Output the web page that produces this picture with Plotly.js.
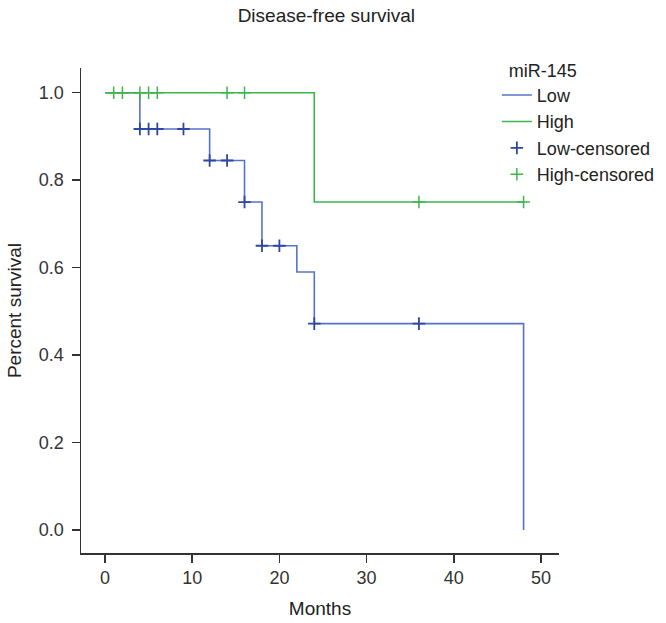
<!DOCTYPE html>
<html>
<head>
<meta charset="utf-8">
<script src="https://cdn.plot.ly/plotly-3.0.1.min.js"></script>
<style>html,body{margin:0;padding:0;background:#fff;}#chart{width:666px;height:623px;}</style>
</head>
<body>
<div id="chart"></div>
<script>
// Kaplan-Meier step curves
const lowTimes = [0, 4, 12, 16, 18, 22, 24, 48];
const lowSurv  = [1.0, 0.917, 0.845, 0.75, 0.65, 0.59, 0.472, 0.0];
const highTimes = [0, 24, 48];
const highSurv  = [1.0, 0.75, 0.75];
// Censored observations
const lowCensTimes = [4, 5, 6, 9, 12, 14, 16, 18, 20, 24, 36];
const lowCensSurv  = [0.917, 0.917, 0.917, 0.917, 0.845, 0.845, 0.75, 0.65, 0.65, 0.472, 0.472];
const highCensTimes = [1, 2, 4, 5, 6, 14, 16, 36, 48];
const highCensSurv  = [1, 1, 1, 1, 1, 1, 1, 0.75, 0.75];
const xTicks = [0, 10, 20, 30, 40, 50];
const yTicks = [0, 0.2, 0.4, 0.6, 0.8, 1.0];

const blue = '#5673c8';
const blueDark = '#2d47a3';
const green = '#3db54a';

const traces = [
  {x: lowTimes, y: lowSurv, name: 'Low', mode: 'lines', line: {shape: 'hv', color: blue, width: 1.6}},
  {x: highTimes, y: highSurv, name: 'High', mode: 'lines', line: {shape: 'hv', color: green, width: 1.6}},
  {x: lowCensTimes, y: lowCensSurv, name: 'Low-censored', mode: 'markers',
   marker: {symbol: 'cross-thin', size: 9, color: blueDark, line: {color: blueDark, width: 1.8}}},
  {x: highCensTimes, y: highCensSurv, name: 'High-censored', mode: 'markers',
   marker: {symbol: 'cross-thin', size: 9, color: green, line: {color: green, width: 1.5}}}
];

const fontFam = '"Liberation Sans", Arial, Helvetica, sans-serif';
const layout = {
  width: 666, height: 623,
  margin: {l: 81, r: 107, t: 68, b: 70, autoexpand: false},
  paper_bgcolor: '#fff', plot_bgcolor: '#fff',
  font: {family: fontFam, size: 18, color: '#222'},
  title: {text: 'Disease-free survival', x: 0.49, xanchor: 'center', y: 0.975, yanchor: 'middle', yref: 'container',
          font: {family: fontFam, size: 19, color: '#222'}},
  xaxis: {range: [-2.75, 52.06], tickvals: xTicks, ticktext: xTicks.map(String), automargin: false,
          showgrid: false, zeroline: false, showline: true, linecolor: '#333', linewidth: 1.5,
          ticks: 'outside', ticklen: 8, tickwidth: 1.5, tickcolor: '#333',
          tickfont: {size: 18, color: '#333'},
          title: {text: 'Months', font: {size: 19, color: '#222'}, standoff: 14}},
  yaxis: {range: [-0.0526, 1.0565], tickvals: yTicks, ticktext: yTicks.map(v => v.toFixed(1)), automargin: false,
          showgrid: false, zeroline: false, showline: true, linecolor: '#333', linewidth: 1.5,
          ticks: 'outside', ticklen: 8, tickwidth: 1.5, tickcolor: '#333',
          tickfont: {size: 18, color: '#333'}, ticklabelstandoff: 4,
          title: {text: 'Percent survival', font: {size: 19, color: '#222'}, standoff: 12}},
  showlegend: true,
  legend: {x: 0.87, xanchor: 'left', y: 1.03, yanchor: 'top', bgcolor: 'rgba(0,0,0,0)',
           font: {size: 18, color: '#222'}, tracegroupgap: 0, itemwidth: 30,
           title: {text: '\u00a0\u00a0miR-145', font: {size: 18, color: '#222'}}}
};
Plotly.newPlot('chart', traces, layout, {displayModeBar: false, staticPlot: true});
</script>
</body>
</html>
